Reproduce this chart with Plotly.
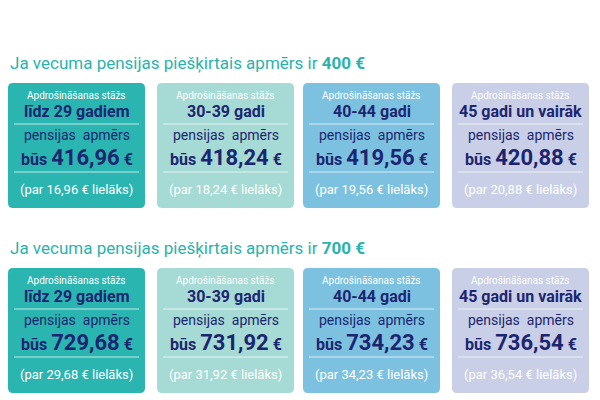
import plotly.graph_objects as go

groups = ["400", "700"]
stazs = ["līdz 29 gadiem", "30-39 gadi", "40-44 gadi", "45 gadi un vairāk"]
amounts = [["416,96", "418,24", "419,56", "420,88"],
           ["729,68", "731,92", "734,23", "736,54"]]
diffs = [["16,96", "18,24", "19,56", "20,88"],
         ["29,68", "31,92", "34,23", "36,54"]]
colors = ["#2bb5b0", "#a6dad4", "#7cc1e0", "#c8cfe6"]
card_x = [8, 157, 303, 452]
card_w = 137
row_top = [83, 268]
card_h = 125
navy = "#1c2670"
teal = "#2ab3ad"

def rr(x0, y0, x1, y1, r=5):
    return (f"M{x0+r},{y0} L{x1-r},{y0} Q{x1},{y0} {x1},{y0+r} L{x1},{y1-r} Q{x1},{y1} {x1-r},{y1} "
            f"L{x0+r},{y1} Q{x0},{y1} {x0},{y1-r} L{x0},{y0+r} Q{x0},{y0} {x0+r},{y0} Z")

fig = go.Figure()
fig.add_trace(go.Scatter(x=[10, 590], y=[10, 390], mode="markers", marker=dict(opacity=0), hoverinfo="skip"))
shapes, ann = [], []
F = "Roboto"
ann.append(dict(x=6, y=20, text="PIEMĒRS", xanchor="left", yanchor="middle", showarrow=False,
                font=dict(family="Roboto Light, Roboto", size=32, color=teal)))
subtitle_y = [63, 248]
for gi, g in enumerate(groups):
    ann.append(dict(x=8, y=subtitle_y[gi], xanchor="left", yanchor="middle", showarrow=False,
                    text=f"Ja vecuma pensijas piešķirtais apmērs ir <b>{g} €</b>",
                    font=dict(family=F, size=17, color=teal)))
    t = row_top[gi]
    for ci in range(4):
        x0 = card_x[ci]; x1 = x0 + card_w; cx = (x0 + x1) / 2
        shapes.append(dict(type="path", path=rr(x0, t, x1, t + card_h), fillcolor=colors[ci],
                           line=dict(width=0), layer="below"))
        for ly in (41, 89):
            shapes.append(dict(type="line", x0=x0 + 6, x1=x1 - 6, y0=t + ly, y1=t + ly,
                               line=dict(color="rgba(255,255,255,0.7)", width=1)))
        ann += [
            dict(x=cx, y=t + 12, text="Apdrošināšanas stāžs", font=dict(family=F, size=10, color="white")),
            dict(x=cx, y=t + 28, text=f"<b>{stazs[ci]}</b>", font=dict(family=F, size=16, color=navy)),
            dict(x=cx, y=t + 52, text="pensijas  apmērs", font=dict(family=F, size=14, color=navy)),
            dict(x=cx, y=t + 74, text=f"<b>būs <span style='font-size:22px'>{amounts[gi][ci]}</span> €</b>",
                 font=dict(family=F, size=16, color=navy)),
            dict(x=cx, y=t + 106, text=f"(par {diffs[gi][ci]} € lielāks)", font=dict(family=F, size=13, color="white")),
        ]
for a in ann:
    a.setdefault("showarrow", False); a.setdefault("yanchor", "middle"); a.setdefault("xanchor", "center")
fig.update_layout(width=600, height=400, margin=dict(l=0, r=0, t=0, b=0), plot_bgcolor="white",
                  paper_bgcolor="white", shapes=shapes, annotations=ann, showlegend=False,
                  xaxis=dict(range=[8, 608], visible=False, fixedrange=True),
                  yaxis=dict(range=[408, 8], visible=False, fixedrange=True))
fig.write_html("out.html")
